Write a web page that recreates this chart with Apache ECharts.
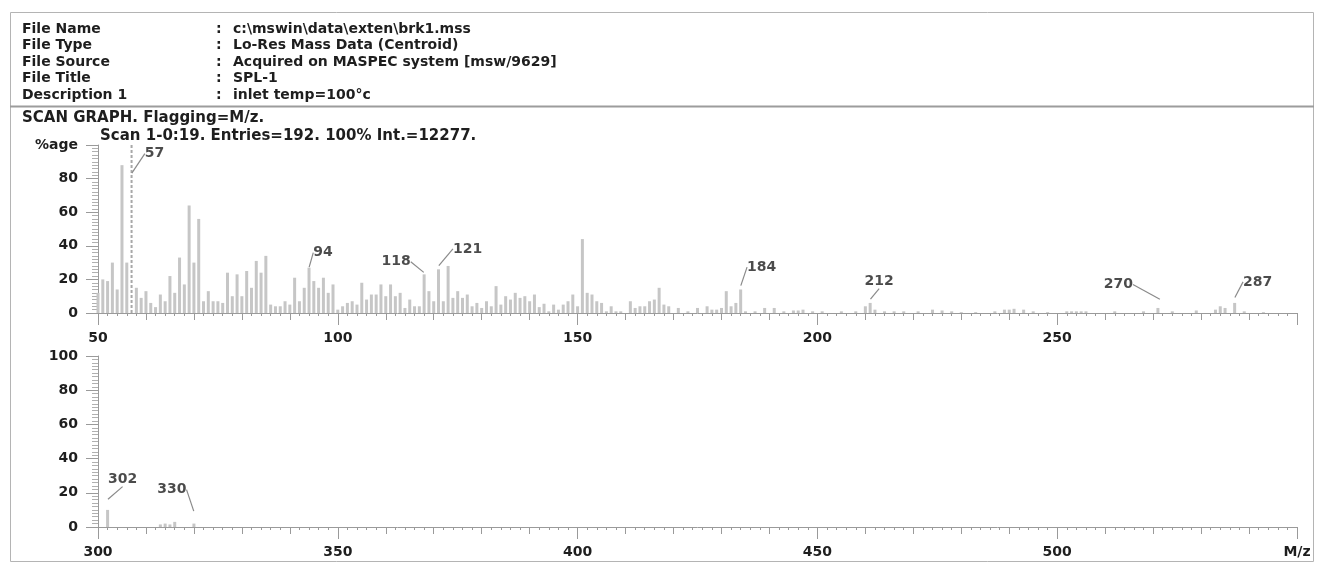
<!DOCTYPE html>
<html>
<head>
<meta charset="utf-8">
<script src="https://cdn.jsdelivr.net/npm/echarts@6/dist/echarts.min.js"></script>
<style>
  html, body { margin: 0; padding: 0; background: #fff; }
  #chart { width: 1323px; height: 564px; }
</style>
</head>
<body>
<div id="chart"></div>
<script>
// header block
const headerKeys = ['File Name', 'File Type', 'File Source', 'File Title', 'Description 1']
const headerValues = [
  'c:\\mswin\\data\\exten\\brk1.mss',
  'Lo-Res Mass Data (Centroid)',
  'Acquired on MASPEC system [msw/9629]',
  'SPL-1',
  'inlet temp=100°c'
]
const graphTitle = 'SCAN GRAPH. Flagging=M/z.'
const scanInfo = 'Scan 1-0:19. Entries=192. 100% Int.=12277.'

// upper trace, m/z 50-300 (% of base peak)
const topMz = [50, 51, 52, 53, 54, 55, 56, 58, 59, 60, 61, 62, 63, 64, 65, 66, 67, 68, 69, 70,
  71, 72, 73, 74, 75, 76, 77, 78, 79, 80, 81, 82, 83, 84, 85, 86, 87, 88, 89, 90,
  91, 92, 93, 94, 95, 96, 97, 98, 99, 100, 101, 102, 103, 104, 105, 106, 107, 108, 109, 110,
  111, 112, 113, 114, 115, 116, 117, 118, 119, 120, 121, 122, 123, 124, 125, 126, 127, 128, 129, 130,
  131, 132, 133, 134, 135, 136, 137, 138, 139, 140, 141, 142, 143, 144, 145, 146, 147, 148, 149, 150,
  151, 152, 153, 154, 155, 156, 157, 158, 159, 161, 162, 163, 164, 165, 166, 167, 168, 169, 171, 173,
  175, 177, 178, 179, 180, 181, 182, 183, 184, 185, 187, 189, 191, 193, 195, 196, 197, 199, 201, 205,
  208, 210, 211, 212, 214, 216, 218, 221, 224, 226, 228, 230, 233, 237, 239, 240, 241, 243, 245, 248,
  252, 253, 254, 255, 256, 262, 268, 271, 274, 279, 283, 284, 285, 287, 289, 293]
const topInt = [12, 20, 19, 30, 14, 88, 30, 15, 9, 13, 6, 3.5, 11, 7, 22, 12, 33, 17, 64, 30,
  56, 7, 13, 7, 7, 6, 24, 10, 23, 10, 25, 15, 31, 24, 34, 5, 4, 4, 7, 5,
  21, 7, 15, 27, 19, 15, 21, 12, 17, 2, 4, 6, 7, 5, 18, 8, 11, 11, 17, 10,
  17, 10, 12, 3, 8, 4, 4, 23, 13, 7, 26, 7, 28, 9, 13, 9, 11, 4, 6, 3,
  7, 4, 16, 5, 10, 8, 12, 9, 10, 7, 11, 3.5, 5.5, 1, 5, 2, 5, 7, 11, 4,
  44, 12, 11, 7, 6, 1, 4, 1, 1, 7, 3, 4, 4, 7, 8, 15, 5, 4, 3, 1,
  3, 4, 2, 2, 3, 13, 4, 6, 14, 1, 1, 3, 3, 1, 1.5, 1.5, 2, 1, 1, 1,
  1, 4, 6, 2, 1, 1, 1, 1, 2, 1.5, 1, 0.5, 0.5, 1, 2, 2, 2.5, 2, 1, 0.5,
  1, 1, 1, 1, 1, 1, 1, 3, 1, 1.5, 2, 4, 3, 6, 1, 0.5]
const basePeakMz = 57
const basePeakInt = 100

// lower trace, m/z 300-550
const lowMz = [302, 313, 314, 315, 316, 320]
const lowInt = [10, 1.5, 2, 1.5, 3, 2]

// flagged peaks: m/z, text, height where the leader meets
const topFlagMz = [57, 94, 118, 121, 184, 211, 271.5, 287]
const topFlagText = ['57', '94', '118', '121', '184', '212', '270', '287']
const topFlagInt = [83, 27, 24, 28, 16, 8, 8, 9]
const lowFlagMz = [302, 320]
const lowFlagText = ['302', '330']
const lowFlagInt = [16, 9]

// label offsets in px from the leader end (layout only)
const topFlagOffsets = [[23, -20], [14, -15], [-28, -11], [29, -17], [21, -19], [9, -18], [-42, -15], [23, -16]]
const lowFlagOffsets = [[15, -20], [-22, -22]]

const FONT = '"DejaVu Sans", Verdana, sans-serif'
const TXT = '#1e1e1e'
const AX = '#9a9a9a'
const BAR = '#c6c6c6'

const chart = echarts.init(document.getElementById('chart'), null, { renderer: 'canvas' })

const labelStyle = { fontFamily: FONT, fontWeight: 'bold', fontSize: 14, color: TXT }

function majorX(grid, min, max, fmt) {
  return {
    gridIndex: grid, type: 'value', position: 'bottom', min, max, interval: 50,
    axisLine: { lineStyle: { color: AX, width: 1 } },
    axisTick: { length: 12, lineStyle: { color: AX } },
    axisLabel: Object.assign({ margin: 18, formatter: fmt }, labelStyle),
    splitLine: { show: false }
  }
}
function minorX(grid, min, max) {
  return {
    gridIndex: grid, type: 'value', position: 'bottom', min, max, interval: 10,
    axisLine: { show: false },
    axisTick: { length: 7, lineStyle: { color: AX } },
    minorTick: { show: true, splitNumber: 5, length: 3, lineStyle: { color: AX } },
    axisLabel: { show: false },
    splitLine: { show: false }
  }
}
function yAx(grid, fmt) {
  return {
    gridIndex: grid, type: 'value', min: 0, max: 100, interval: 20,
    axisLine: { show: true, lineStyle: { color: AX } },
    axisTick: { show: true, length: 12, lineStyle: { color: AX } },
    minorTick: { show: true, splitNumber: 10, length: 6, lineStyle: { color: '#b0b0b0' } },
    axisLabel: Object.assign({ margin: 20, formatter: fmt }, labelStyle),
    splitLine: { show: false }
  }
}

function flagSeries(xi, yi, mz, ints, texts, offs) {
  return {
    type: 'scatter', xAxisIndex: xi, yAxisIndex: yi,
    symbolSize: 1, itemStyle: { color: 'rgba(0,0,0,0)' },
    silent: true, z: 5,
    data: mz.map((m, i) => [m, ints[i]]),
    label: Object.assign({
      show: true, position: 'inside',
      formatter: p => texts[p.dataIndex]
    }, labelStyle),
    labelLayout: p => ({ dx: offs[p.dataIndex][0], dy: offs[p.dataIndex][1] }),
    labelLine: { show: true, lineStyle: { color: '#8a8a8a', width: 1.2 } }
  }
}

const HFONT = 'bold 14px ' + FONT
const TFONT = 'bold 15px ' + FONT
const graphic = []
// frame
graphic.push({ type: 'rect', shape: { x: 10.5, y: 12.5, width: 1303, height: 549 }, style: { fill: null, stroke: '#b4b4b4', lineWidth: 1 } })
graphic.push({ type: 'line', shape: { x1: 10, y1: 106.5, x2: 1314, y2: 106.5 }, style: { stroke: '#9c9c9c', lineWidth: 2 } })
headerKeys.forEach((k, i) => {
  const y = 29 + i * 16.5
  graphic.push({ type: 'text', x: 22, y, style: { text: k, font: HFONT, fill: TXT, verticalAlign: 'middle' } })
  graphic.push({ type: 'text', x: 216, y, style: { text: ':', font: HFONT, fill: TXT, verticalAlign: 'middle' } })
  graphic.push({ type: 'text', x: 233, y, style: { text: headerValues[i], font: HFONT, fill: TXT, verticalAlign: 'middle' } })
})
graphic.push({ type: 'text', x: 22, y: 118, style: { text: graphTitle, font: TFONT, fill: TXT, verticalAlign: 'middle' } })
graphic.push({ type: 'text', x: 100, y: 136, style: { text: scanInfo, font: TFONT, fill: TXT, verticalAlign: 'middle' } })

const option = {
  backgroundColor: '#fff',
  animation: false,
  grid: [
    { left: 98, right: 26, top: 145, height: 168 },
    { left: 98, right: 26, top: 356, height: 171 }
  ],
  xAxis: [
    majorX(0, 50, 300, v => (v === 300 ? '' : v)),
    minorX(0, 50, 300),
    majorX(1, 300, 550, v => (v === 550 ? 'M/z' : v)),
    minorX(1, 300, 550)
  ],
  yAxis: [
    yAx(0, v => (v === 100 ? '%age' : v)),
    yAx(1, v => v)
  ],
  graphic,
  series: [
    {
      type: 'bar', xAxisIndex: 0, yAxisIndex: 0, barWidth: 3,
      itemStyle: { color: BAR },
      data: topMz.map((m, i) => [m, topInt[i]])
    },
    {
      // base peak drawn dotted
      type: 'line', xAxisIndex: 0, yAxisIndex: 0, symbol: 'none',
      lineStyle: { color: '#a8a8a8', width: 2, type: [3, 2] },
      data: [[basePeakMz, 0], [basePeakMz, basePeakInt]]
    },
    {
      type: 'bar', xAxisIndex: 2, yAxisIndex: 1, barWidth: 3,
      itemStyle: { color: BAR },
      data: lowMz.map((m, i) => [m, lowInt[i]])
    },
    flagSeries(0, 0, topFlagMz, topFlagInt, topFlagText, topFlagOffsets),
    flagSeries(2, 1, lowFlagMz, lowFlagInt, lowFlagText, lowFlagOffsets)
  ]
}

chart.setOption(option)
window.addEventListener('resize', () => chart.resize())
</script>
</body>
</html>
